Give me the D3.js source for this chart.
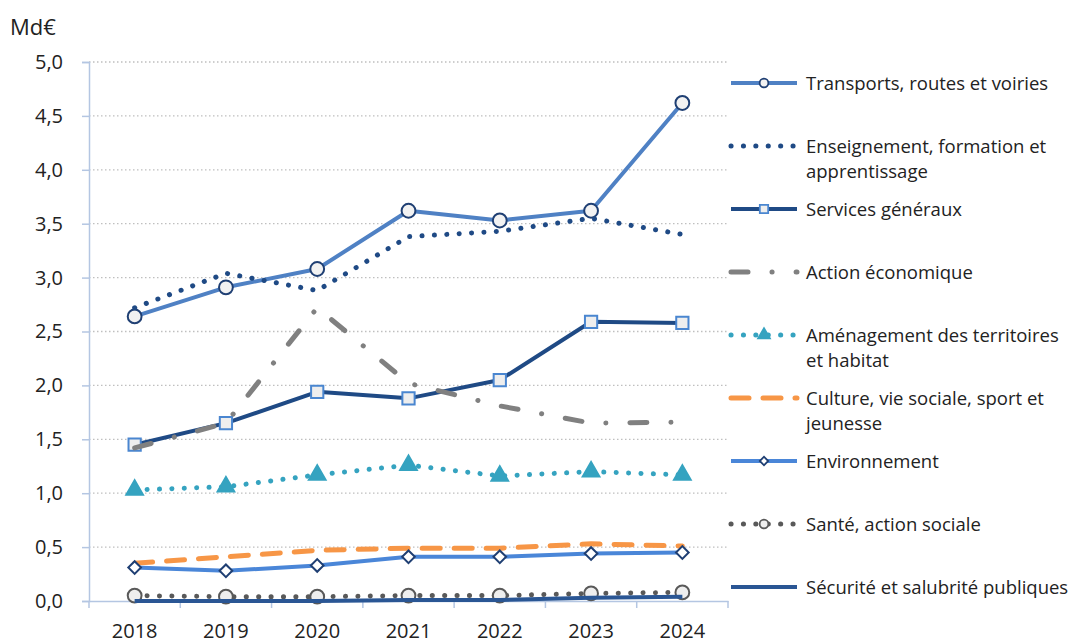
<!DOCTYPE html>
<html>
<head>
<meta charset="utf-8">
<script src="https://d3js.org/d3.v7.min.js"></script>
<style>
body { margin: 0; background: #fff; }
text { font-family: "Open Sans", sans-serif; fill: #222; }
</style>
</head>
<body>
<script>
// years on the x axis
var years = ["2018", "2019", "2020", "2021", "2022", "2023", "2024"];
var yTicks = [0, 0.5, 1, 1.5, 2, 2.5, 3, 3.5, 4, 4.5, 5];

// values in Md€, one list per series
var transports   = [2.64, 2.91, 3.08, 3.62, 3.53, 3.62, 4.62];
var enseignement = [2.72, 3.04, 2.88, 3.38, 3.43, 3.55, 3.40];
var services     = [1.45, 1.65, 1.94, 1.88, 2.05, 2.59, 2.58];
var actionEco    = [1.42, 1.65, 2.72, 2.02, 1.81, 1.65, 1.66];
var amenagement  = [1.03, 1.06, 1.17, 1.26, 1.16, 1.20, 1.17];
var culture      = [0.35, 0.41, 0.47, 0.49, 0.49, 0.53, 0.51];
var environnement= [0.31, 0.28, 0.33, 0.41, 0.41, 0.44, 0.45];
var sante        = [0.05, 0.04, 0.04, 0.05, 0.05, 0.07, 0.08];
var securite     = [0.00, 0.00, 0.00, 0.01, 0.01, 0.03, 0.04];

var labels = [
  ["Transports, routes et voiries"],
  ["Enseignement, formation et", "apprentissage"],
  ["Services généraux"],
  ["Action économique"],
  ["Aménagement des territoires", "et habitat"],
  ["Culture, vie sociale, sport et", "jeunesse"],
  ["Environnement"],
  ["Santé, action sociale"],
  ["Sécurité et salubrité publiques"]
];

var series = [
  {values: transports, color: "#4f81c4", width: 4, dash: null, marker: "circle", mfill: "#f2f2f2", mstroke: "#1f3f73"},
  {values: enseignement, color: "#1f4a85", width: 5, dash: "0.1,12.3", cap: "round", marker: null},
  {values: services, color: "#1f4a85", width: 4, dash: null, marker: "square", mfill: "#eeeeee", mstroke: "#4a86d0"},
  {values: actionEco, color: "#808080", width: 5, dash: "17,24,0.1,24", cap: "round", marker: null},
  {values: amenagement, color: "#35a3c0", width: 5, dash: "0.1,12.3", cap: "round", marker: "triangle", mfill: "#35a3c0", mstroke: "#35a3c0"},
  {values: culture, color: "#f79646", width: 5, dash: "18,14", cap: "round", marker: null},
  {values: environnement, color: "#4a86d8", width: 4, dash: null, marker: "diamond", mfill: "#ffffff", mstroke: "#1f3f73"},
  {values: sante, color: "#595959", width: 5, dash: "0.1,12.3", cap: "round", marker: "circle", mfill: "#eeeeee", mstroke: "#595959"},
  {values: securite, color: "#2a5694", width: 4, dash: null, marker: null}
];

var width = 1074, height = 644;
var svg = d3.select("body").append("svg")
  .attr("width", width).attr("height", height);

var x = d3.scaleBand().domain(years).range([89, 728]);
var y = d3.scaleLinear().domain([0, 5]).range([601, 62]);
var cx = function(d) { return x(d) + x.bandwidth() / 2; };
var fmt = function(v) { return d3.format(".1f")(v).replace(".", ","); };

// gridlines
svg.append("g").selectAll("line").data(yTicks.filter(function(d) { return d > 0; }))
  .enter().append("line")
  .attr("x1", 89).attr("x2", 728)
  .attr("y1", function(d) { return y(d); }).attr("y2", function(d) { return y(d); })
  .attr("stroke", "#bfbfbf").attr("stroke-width", 1.3).attr("stroke-dasharray", "1.5,2.5");

// y axis
var yAxis = svg.append("g").attr("transform", "translate(89,0)")
  .call(d3.axisLeft(y).tickValues(yTicks).tickFormat(fmt).tickSize(7).tickPadding(19));
yAxis.select(".domain").attr("stroke", "#b4c6e2").attr("stroke-width", 1.5);
yAxis.selectAll(".tick line").attr("stroke", "#b4c6e2").attr("stroke-width", 1.5);
yAxis.selectAll("text").style("font-size", "20px").attr("fill", "#222");

// x axis: labels centered, ticks on band boundaries
var xAxis = svg.append("g").attr("transform", "translate(0,601)")
  .call(d3.axisBottom(x).tickSize(0).tickPadding(23));
xAxis.select(".domain").attr("stroke", "#b4c6e2").attr("stroke-width", 1.5);
xAxis.selectAll("text").style("font-size", "20px").attr("fill", "#222");
svg.append("g").selectAll("line").data(years.concat(["end"]))
  .enter().append("line")
  .attr("x1", function(d, i) { return 89 + i * x.bandwidth(); })
  .attr("x2", function(d, i) { return 89 + i * x.bandwidth(); })
  .attr("y1", 601).attr("y2", 608)
  .attr("stroke", "#b4c6e2").attr("stroke-width", 1.5);

svg.append("text").attr("x", 10).attr("y", 35)
  .style("font-size", "22px").text("Md€");

var symbolFor = function(m, size) {
  var t = {circle: d3.symbolCircle, square: d3.symbolSquare, triangle: d3.symbolTriangle, diamond: d3.symbolSquare};
  return d3.symbol().type(t[m]).size(size);
};
var rot = function(m) { return m === "diamond" ? " rotate(45)" : ""; };

var line = d3.line()
  .x(function(d, i) { return cx(years[i]); })
  .y(function(d) { return y(d); });

series.forEach(function(s) {
  svg.append("path")
    .attr("d", line(s.values))
    .attr("fill", "none")
    .attr("stroke", s.color)
    .attr("stroke-width", s.width)
    .attr("stroke-linecap", s.cap || "butt")
    .attr("stroke-linejoin", "round")
    .attr("stroke-dasharray", s.dash);
  if (s.marker) {
    var sizes = {circle: 150, square: 150, triangle: 120, diamond: 80};
    svg.append("g").selectAll("path").data(s.values).enter().append("path")
      .attr("transform", function(d, i) { return "translate(" + cx(years[i]) + "," + y(d) + ")" + rot(s.marker); })
      .attr("d", symbolFor(s.marker, sizes[s.marker]))
      .attr("fill", s.mfill).attr("stroke", s.mstroke).attr("stroke-width", 2);
  }
});

// legend
var leg = svg.append("g");
series.forEach(function(s, i) {
  var ly = 83 + i * 63;
  leg.append("line")
    .attr("x1", 731).attr("x2", 797).attr("y1", ly).attr("y2", ly)
    .attr("stroke", s.color).attr("stroke-width", s.width)
    .attr("stroke-linecap", s.cap || "butt")
    .attr("stroke-dasharray", s.dash);
  if (s.marker) {
    var lsizes = {circle: 60, square: 70, triangle: 60, diamond: 35};
    leg.append("path")
      .attr("transform", "translate(764," + ly + ")" + rot(s.marker))
      .attr("d", symbolFor(s.marker, lsizes[s.marker]))
      .attr("fill", s.mfill).attr("stroke", s.mstroke).attr("stroke-width", 1.8);
  }
  var t = leg.append("text").attr("x", 806).attr("y", ly + 6.5).style("font-size", "18.5px");
  labels[i].forEach(function(l, j) {
    t.append("tspan").attr("x", 806).attr("dy", j === 0 ? 0 : 25).text(l);
  });
});
</script>
</body>
</html>
